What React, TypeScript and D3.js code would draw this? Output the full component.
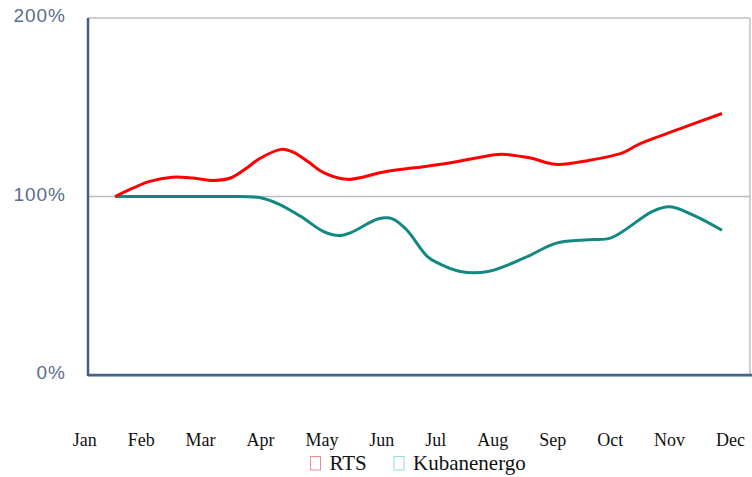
import React, { useEffect, useRef } from "react";
import * as d3 from "d3";

const months = ["Jan", "Feb", "Mar", "Apr", "May", "Jun", "Jul", "Aug", "Sep", "Oct", "Nov", "Dec"];
const yTicks = [0, 100, 200];

const rtsDays = [0, 11, 20, 33, 45, 57, 67, 76, 83, 96, 103, 112, 120, 134, 155, 180, 191, 209, 223, 239, 254, 273, 293, 302, 326, 350];
const rtsValues = [100, 105, 108.5, 110.8, 110.3, 109, 110.5, 116, 121, 126.4, 124.7, 119, 113.5, 109.6, 113.7, 117, 118.5, 121.7, 123.6, 121.7, 118, 120.2, 124.6, 129.2, 138, 146.5];

const kubDays = [0, 40, 64, 84, 95, 107, 120, 129, 136, 152, 160, 168, 180, 186, 199, 215, 236, 255, 273, 286, 310, 320, 334, 350];
const kubValues = [100, 100, 100, 99.3, 95.5, 88.9, 80.5, 78.1, 79.8, 87.5, 87.5, 81.5, 66.5, 62.8, 58, 58, 65.6, 74, 75.8, 76.8, 91.7, 94.2, 89.3, 81.1];

const seriesNames = ["RTS", "Kubanenergo"];

export default function App() {
  const ref = useRef<SVGSVGElement>(null);

  useEffect(() => {
    const svg = d3.select(ref.current);
    svg.selectAll("*").remove();

    const left = 88, right = 750, top = 18, bottom = 375;
    const x = d3.scaleLinear().domain([0, 350]).range([115, 722]);
    const y = d3.scaleLinear().domain([0, 200]).range([bottom, top]);

    // gridlines / frame
    svg.append("line").attr("x1", left).attr("x2", right).attr("y1", y(200)).attr("y2", y(200))
      .attr("stroke", "#cfcfcf").attr("stroke-width", 2);
    svg.append("line").attr("x1", right).attr("x2", right).attr("y1", top).attr("y2", bottom)
      .attr("stroke", "#d0d0d0").attr("stroke-width", 2);
    svg.append("line").attr("x1", left).attr("x2", right).attr("y1", y(100)).attr("y2", y(100))
      .attr("stroke", "#bdbdbd").attr("stroke-width", 1.5);

    // y labels
    svg.append("g").selectAll("text").data(yTicks).join("text")
      .attr("x", 66).attr("y", (d) => y(d) - 1)
      .attr("text-anchor", "end").attr("dominant-baseline", "middle")
      .attr("font-family", "'Liberation Sans', Arial, sans-serif").attr("font-size", 19)
      .attr("letter-spacing", 1)
      .attr("fill", "#5a6c8c")
      .text((d) => d + "%");

    const line = d3.line<[number, number]>().x((d) => x(d[0])).y((d) => y(d[1]))
      .curve(d3.curveCatmullRom.alpha(0.5));

    const rts = rtsDays.map((d, i) => [d, rtsValues[i]] as [number, number]);
    const kub = kubDays.map((d, i) => [d, kubValues[i]] as [number, number]);

    svg.append("path").attr("d", line(kub)).attr("fill", "none")
      .attr("stroke", "#128882").attr("stroke-width", 3).attr("stroke-linejoin", "round");
    svg.append("path").attr("d", line(rts)).attr("fill", "none")
      .attr("stroke", "#ff0000").attr("stroke-width", 3).attr("stroke-linejoin", "round");

    // axes
    svg.append("line").attr("x1", left).attr("x2", 752).attr("y1", bottom + 1.5).attr("y2", bottom + 1.5)
      .attr("stroke", "#b8c4d4").attr("stroke-width", 1);
    svg.append("line").attr("x1", left).attr("x2", 752).attr("y1", bottom).attr("y2", bottom)
      .attr("stroke", "#46648c").attr("stroke-width", 2.5);
    svg.append("line").attr("x1", left).attr("x2", left).attr("y1", top).attr("y2", bottom + 1)
      .attr("stroke", "#3d5f8a").attr("stroke-width", 2.5);

    // month labels, equal gaps
    const mg = svg.append("g");
    const texts = mg.selectAll("text").data(months).join("text")
      .attr("y", 446)
      .attr("font-family", "'Liberation Serif', 'Times New Roman', serif").attr("font-size", 18)
      .attr("fill", "#111")
      .text((d) => d);
    const widths: number[] = [];
    texts.each(function () { widths.push((this as SVGTextElement).getComputedTextLength()); });
    const startX = 72.7, endX = 745;
    const gap = (endX - startX - d3.sum(widths)) / (months.length - 1);
    let cx = startX;
    texts.each(function (_d, i) {
      d3.select(this).attr("x", cx);
      cx += widths[i] + gap;
    });

    // legend
    const legendColors = ["#f28b8b", "#8fdcdc"];
    const legendX = [310.5, 394];
    const lg = svg.append("g").selectAll("g").data(seriesNames).join("g");
    lg.append("rect").attr("x", (_d, i) => legendX[i]).attr("y", 456.5).attr("width", 10).attr("height", 13.5)
      .attr("fill", "none").attr("stroke", (_d, i) => legendColors[i]).attr("stroke-width", 1);
    lg.append("text").attr("x", (_d, i) => legendX[i] + 19).attr("y", 469.5)
      .attr("font-family", "'Liberation Serif', 'Times New Roman', serif").attr("font-size", 21)
      .attr("fill", "#111").text((d) => d);
  }, []);

  return (
    <svg ref={ref} width={752} height={477}
      style={{ position: "absolute", left: 0, top: 0, background: "#fff", display: "block" }} />
  );
}
